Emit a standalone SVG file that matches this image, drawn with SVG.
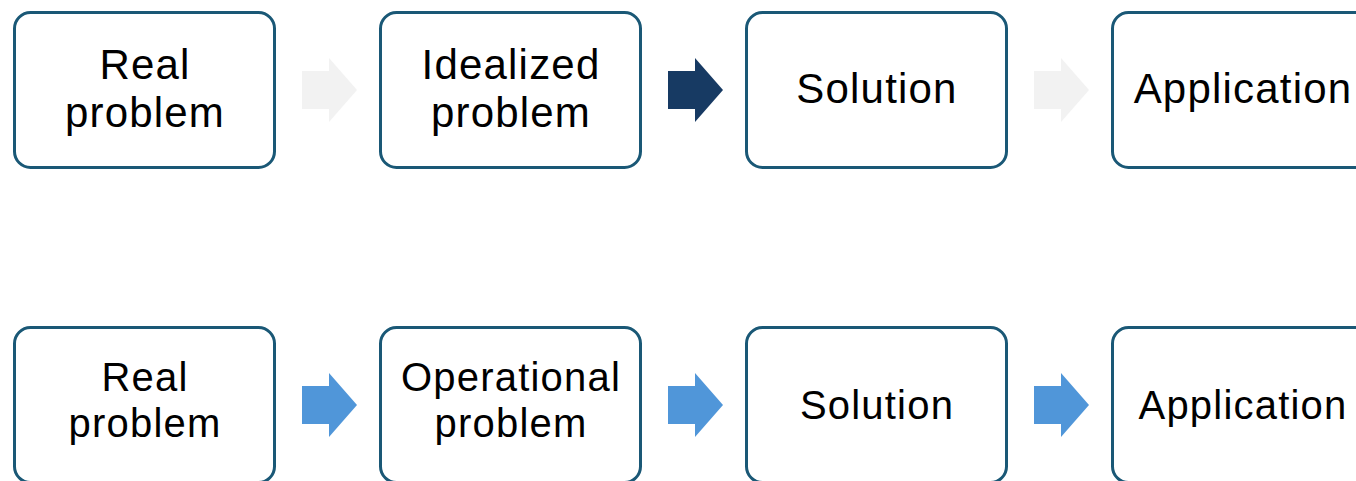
<svg xmlns="http://www.w3.org/2000/svg" width="1356" height="481" viewBox="0 0 1356 481">
  <style>
    .box { fill: #ffffff; stroke: #1a5876; stroke-width: 3; }
    .t1 { font-family: "Liberation Sans", Arial, sans-serif; font-size: 42px; letter-spacing: 1.2px; fill: #000000; text-anchor: middle; }
    .t2 { font-family: "Liberation Sans", Arial, sans-serif; font-size: 40px; letter-spacing: 1.2px; fill: #000000; text-anchor: middle; }
    .a-gray { fill: #f2f2f2; }
    .a-dark { fill: #173a63; }
    .a-blue { fill: #5096d9; }
  </style>
  <defs>
    <!-- block arrow, origin at shaft left / vertical centre -->
    <path id="blk" d="M0,-19 H27 V-32 L55,0 L27,32 V19 H0 Z"/>
  </defs>
  <rect width="1356" height="481" fill="#ffffff"/>

  <!-- top row -->
  <g id="top-real">
    <rect class="box" x="14.5" y="12.5" width="260" height="155" rx="16"/>
    <text class="t1" x="145" y="79">Real</text>
    <text class="t1" x="145" y="127">problem</text>
  </g>
  <g id="top-idealized">
    <rect class="box" x="380.5" y="12.5" width="260" height="155" rx="16"/>
    <text class="t1" x="511" y="79">Idealized</text>
    <text class="t1" x="511" y="127">problem</text>
  </g>
  <g id="top-solution">
    <rect class="box" x="746.5" y="12.5" width="260" height="155" rx="16"/>
    <text class="t1" x="877" y="103">Solution</text>
  </g>
  <g id="top-application">
    <rect class="box" x="1112.5" y="12.5" width="260" height="155" rx="16"/>
    <text class="t1" x="1243" y="103">Application</text>
  </g>

  <!-- bottom row -->
  <g id="bottom-real">
    <rect class="box" x="14.5" y="327.5" width="260" height="155" rx="16"/>
    <text class="t2" x="145" y="391">Real</text>
    <text class="t2" x="145" y="437">problem</text>
  </g>
  <g id="bottom-operational">
    <rect class="box" x="380.5" y="327.5" width="260" height="155" rx="16"/>
    <text class="t2" x="511" y="391">Operational</text>
    <text class="t2" x="511" y="437">problem</text>
  </g>
  <g id="bottom-solution">
    <rect class="box" x="746.5" y="327.5" width="260" height="155" rx="16"/>
    <text class="t2" x="877" y="419">Solution</text>
  </g>
  <g id="bottom-application">
    <rect class="box" x="1112.5" y="327.5" width="260" height="155" rx="16"/>
    <text class="t2" x="1243" y="419">Application</text>
  </g>

  <!-- connectors -->
  <g id="connectors">
    <use href="#blk" class="a-gray" x="302" y="90"/>
    <use href="#blk" class="a-dark" x="668" y="90"/>
    <use href="#blk" class="a-gray" x="1034" y="90"/>
    <use href="#blk" class="a-blue" x="302" y="405"/>
    <use href="#blk" class="a-blue" x="668" y="405"/>
    <use href="#blk" class="a-blue" x="1034" y="405"/>
  </g>
</svg>
